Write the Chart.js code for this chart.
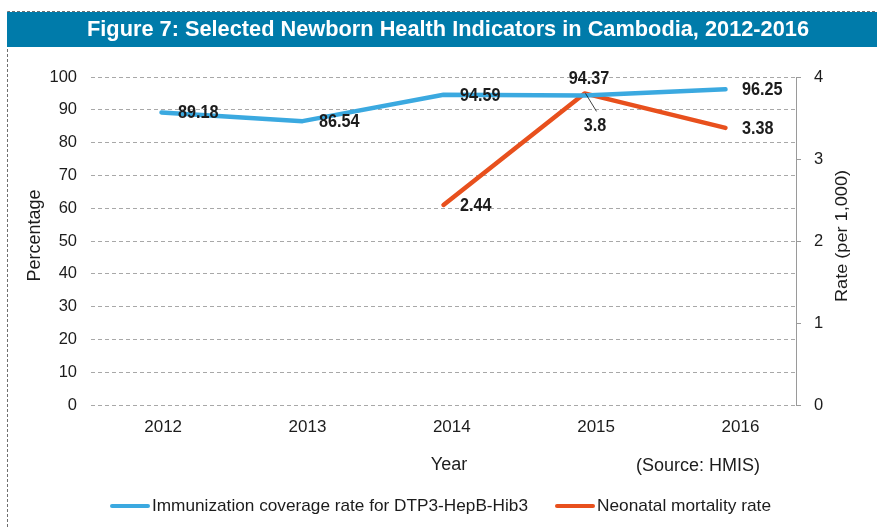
<!DOCTYPE html>
<html><head><meta charset="utf-8">
<script src="https://cdn.jsdelivr.net/npm/chart.js@4"></script>
<style>html,body{margin:0;padding:0;background:#fff;}canvas{display:block;}</style>
</head><body>
<canvas id="c" width="877" height="527"></canvas>
<script>
// ---- data ----
const titleText = 'Figure 7: Selected Newborn Health Indicators in Cambodia, 2012-2016';
const categories = ['2012', '2013', '2014', '2015', '2016'];
const immunization = [89.18, 86.54, 94.59, 94.37, 96.25];
const neonatal = [null, null, 2.44, 3.8, 3.38];
const seriesNames = ['Immunization coverage rate for DTP3-HepB-Hib3', 'Neonatal mortality rate'];
const leftAxisTitle = 'Percentage';
const rightAxisTitle = 'Rate (per 1,000)';
const xAxisTitle = 'Year';
const sourceNote = '(Source: HMIS)';

// ---- styles ----
const FONT = "'Liberation Sans', Arial, Helvetica, sans-serif";
const BLUE = '#3BA9E0';
const ORANGE = '#E8501D';
const TEXT = '#1c1c1c';
const labelPlacement = [
  ['right', 'right', 'right', 'above', 'right'],
  [null, null, 'right', 'below', 'right']
];

function drawText(c, text, x, y, font, opts) {
  opts = opts || {};
  c.save();
  c.font = font;
  c.fillStyle = opts.color || TEXT;
  c.textAlign = opts.align || 'center';
  c.textBaseline = 'middle';
  let sx = opts.scaleX || 1;
  if (opts.width) sx = opts.width / c.measureText(text).width;
  c.translate(x, y);
  if (opts.rotate) c.rotate(opts.rotate);
  c.scale(sx, 1);
  c.fillText(text, 0, 0);
  c.restore();
}

const decor = {
  id: 'decor',
  beforeDraw(chart) {
    const c = chart.ctx;
    c.save();
    c.fillStyle = '#fff';
    c.fillRect(0, 0, chart.width, chart.height);
    // dashed frame
    c.strokeStyle = '#6f6f6f';
    c.lineWidth = 1;
    c.setLineDash([3, 2]);
    c.beginPath();
    c.moveTo(7.5, 527); c.lineTo(7.5, 11.5); c.lineTo(877, 11.5);
    c.stroke();
    c.setLineDash([]);
    // title bar
    c.fillStyle = '#007BAA';
    c.fillRect(7, 12, 870, 35);
    c.restore();
    drawText(c, titleText, 448, 29.5, 'bold 22px ' + FONT, {color: '#fff', width: 722});
  },
  afterDraw(chart) {
    const c = chart.ctx;
    drawText(c, leftAxisTitle, 35, 235.5, '18px ' + FONT, {rotate: -Math.PI / 2});
    drawText(c, rightAxisTitle, 842, 236, '17px ' + FONT, {rotate: -Math.PI / 2, width: 132});
    drawText(c, xAxisTitle, 449, 465, '18px ' + FONT);
    drawText(c, sourceNote, 698, 466, '18px ' + FONT);
    // legend
    const items = [
      {x: 110, ds: chart.data.datasets[0], w: 376},
      {x: 555, ds: chart.data.datasets[1], w: 174}
    ];
    const ly = 506;
    items.forEach(it => {
      c.save();
      c.strokeStyle = it.ds.borderColor;
      c.lineWidth = 4;
      c.lineCap = 'round';
      c.beginPath();
      c.moveTo(it.x + 2, ly); c.lineTo(it.x + 38, ly);
      c.stroke();
      c.restore();
      drawText(c, it.ds.label, it.x + 42, ly, '17px ' + FONT, {align: 'left', width: it.w});
    });
  }
};

const valueLabels = {
  id: 'valueLabels',
  afterDatasetsDraw(chart) {
    const c = chart.ctx;
    const font = 'bold 18px ' + FONT;
    chart.data.datasets.forEach((ds, di) => {
      const meta = chart.getDatasetMeta(di);
      ds.data.forEach((v, j) => {
        if (v === null || v === undefined) return;
        const p = meta.data[j];
        const pos = labelPlacement[di][j];
        const t = String(v);
        if (pos === 'right') {
          drawText(c, t, p.x + 16.5, p.y + 1, font, {align: 'left', scaleX: 0.9});
        } else if (pos === 'above') {
          drawText(c, t, p.x + 4.5, p.y - 16, font, {scaleX: 0.9});
        } else if (pos === 'below') {
          c.save();
          c.strokeStyle = '#111';
          c.lineWidth = 0.8;
          c.beginPath();
          c.moveTo(p.x + 1, p.y); c.lineTo(p.x + 12, p.y + 18);
          c.stroke();
          c.restore();
          drawText(c, t, p.x + 10.5, p.y + 33, font, {scaleX: 0.9});
        }
      });
    });
  }
};

new Chart(document.getElementById('c'), {
  type: 'line',
  data: {
    labels: categories,
    datasets: [
      {label: seriesNames[0], data: immunization, xAxisID: 'x', yAxisID: 'y',
       borderColor: BLUE, backgroundColor: BLUE, borderWidth: 4.5, pointRadius: 0,
       borderCapStyle: 'round', borderJoinStyle: 'round', tension: 0},
      {label: seriesNames[1], data: neonatal, xAxisID: 'x', yAxisID: 'y1',
       borderColor: ORANGE, backgroundColor: ORANGE, borderWidth: 4.5, pointRadius: 0,
       borderCapStyle: 'round', borderJoinStyle: 'round', tension: 0}
    ]
  },
  options: {
    responsive: false, animation: false, devicePixelRatio: 1,
    layout: {padding: {top: 77, left: 0, right: 0, bottom: 0}},
    plugins: {legend: {display: false}, tooltip: {enabled: false}, title: {display: false}},
    scales: {
      x: {type: 'category', offset: true, display: false},
      xl: {
        type: 'linear', position: 'bottom', min: -0.5, max: 4.385, bounds: 'data',
        afterBuildTicks: s => { s.ticks = categories.map((_, i) => ({value: i})); },
        ticks: {callback: v => categories[v], font: {family: FONT, size: 17}, color: TEXT,
                padding: 12, autoSkip: false, maxRotation: 0},
        grid: {display: false, drawTicks: false},
        border: {display: false},
        afterFit: s => { s.height = 122; }
      },
      y: {
        position: 'left', min: 0, max: 100,
        ticks: {stepSize: 10, font: {family: FONT, size: 16.5}, color: TEXT, padding: 14},
        grid: {color: '#a8a8a8', lineWidth: 1, drawTicks: false},
        border: {display: false, dash: [4, 3]},
        afterFit: s => { s.width = 91; }
      },
      y1: {
        position: 'right', min: 0, max: 4,
        ticks: {stepSize: 1, font: {family: FONT, size: 16.5}, color: TEXT, padding: 13},
        grid: {drawOnChartArea: false, drawTicks: true, tickLength: 5, color: '#9a9a9a'},
        border: {display: true, color: '#9a9a9a', width: 1},
        afterFit: s => { s.width = 81; }
      }
    }
  },
  plugins: [decor, valueLabels]
});
</script>
</body></html>
